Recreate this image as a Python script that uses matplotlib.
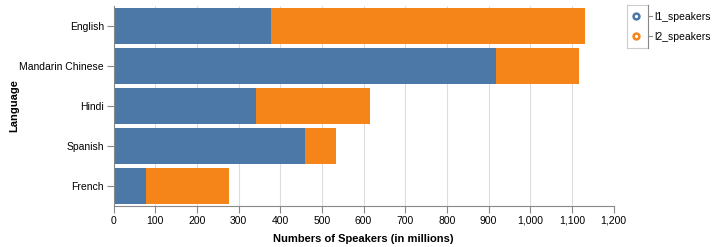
import matplotlib
matplotlib.use("Agg")
import matplotlib.pyplot as plt
from matplotlib.lines import Line2D
from matplotlib.ticker import FuncFormatter, MultipleLocator

languages = ["English", "Mandarin Chinese", "Hindi", "Spanish", "French"]
l1_speakers = [379, 918, 341, 460, 77]
l2_speakers = [753, 199, 274, 74, 200]
series_names = ["l1_speakers", "l2_speakers"]
colors = ["#4c78a8", "#f58518"]

W, H = 715, 247
fig = plt.figure(figsize=(W / 100, H / 100), dpi=100)
plt.rcParams['font.family'] = ['Liberation Sans', 'DejaVu Sans']

def fx(px):
    return px / W

def fy(py):
    return 1 - py / H

x0, x1, y0, y1 = 113.5, 613.5, 6, 206
ax = fig.add_axes([fx(x0), fy(y1), fx(x1) - fx(x0), fy(y0) - fy(y1)])

ypos = list(range(len(languages)))
ax.barh(ypos, l1_speakers, height=0.9, color=colors[0], zorder=2)
ax.barh(ypos, l2_speakers, left=l1_speakers, height=0.9, color=colors[1], zorder=2)

ax.set_xlim(0, 1200)
ax.set_ylim(len(languages) - 0.5, -0.5)
ax.set_yticks(ypos)
ax.set_yticklabels(languages)
ax.xaxis.set_major_locator(MultipleLocator(100))
ax.xaxis.set_major_formatter(FuncFormatter(lambda v, p: f"{int(v):,}"))

ax.grid(axis='x', color='#dddddd', linewidth=0.8, zorder=0)
ax.set_axisbelow(True)
for s in ['top', 'right']:
    ax.spines[s].set_visible(False)
for s in ['left', 'bottom']:
    ax.spines[s].set_color('#888888')
    ax.spines[s].set_linewidth(0.8)
ax.tick_params(axis='both', colors='#888888', length=5, width=0.8, labelsize=7.5,
               labelcolor='black', pad=2)

ax.set_xlabel("Numbers of Speakers (in millions)", fontsize=8, fontweight='bold', labelpad=6)
fig.text(fx(14), fy(106), "Language", fontsize=8, fontweight='bold', rotation=90,
         ha='center', va='center')

# Legend drawn manually
lc = '#cccccc'
fig.add_artist(Line2D([fx(626.5), fx(647.7)], [fy(5.5), fy(5.5)], color=lc, lw=0.8, transform=fig.transFigure))
fig.add_artist(Line2D([fx(626.5), fx(647.7)], [fy(48), fy(48)], color=lc, lw=0.8, transform=fig.transFigure))
fig.add_artist(Line2D([fx(626.5), fx(626.5)], [fy(5.5), fy(48)], color=lc, lw=0.8, transform=fig.transFigure))
fig.add_artist(Line2D([fx(647.7), fx(647.7)], [fy(5.5), fy(48)], color='#888888', lw=0.8, transform=fig.transFigure))
for i, (name, c) in enumerate(zip(series_names, colors)):
    yy = 16.5 + i * 20
    fig.add_artist(Line2D([fx(636)], [fy(yy)], marker='o', markersize=4.2, markeredgewidth=1.8,
                          markerfacecolor='white', markeredgecolor=c, linestyle='none',
                          transform=fig.transFigure))
    fig.add_artist(Line2D([fx(647.7), fx(652)], [fy(yy), fy(yy)], color='#888888', lw=0.8,
                          transform=fig.transFigure))
    fig.text(fx(654), fy(yy), name, fontsize=7.5, va='center', ha='left')

fig.savefig("out.png", dpi=100)
